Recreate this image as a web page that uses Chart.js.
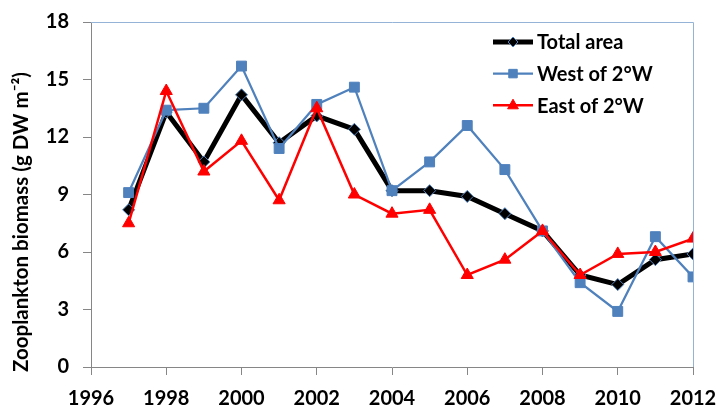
<!DOCTYPE html>
<html>
<head>
<meta charset="utf-8">
<script src="https://cdn.jsdelivr.net/npm/chart.js@4"></script>
<style>
  html, body { margin: 0; padding: 0; background: #fff; }
  #wrap { width: 718px; height: 408px; }
</style>
</head>
<body>
<div id="wrap"><canvas id="chart"></canvas></div>
<script>
// data
var years = [1997, 1998, 1999, 2000, 2001, 2002, 2003, 2004, 2005, 2006, 2007, 2008, 2009, 2010, 2011, 2012];
var totalArea = [8.2, 13.3, 10.7, 14.2, 11.7, 13.1, 12.4, 9.2, 9.2, 8.9, 8.0, 7.1, 4.8, 4.3, 5.6, 5.9];
var westOf2W = [9.1, 13.4, 13.5, 15.7, 11.4, 13.7, 14.6, 9.2, 10.7, 12.6, 10.3, 7.1, 4.4, 2.9, 6.8, 4.7];
var eastOf2W = [7.5, 14.4, 10.2, 11.8, 8.7, 13.5, 9.0, 8.0, 8.2, 4.8, 5.6, 7.1, 4.8, 5.9, 6.0, 6.7];
var seriesNames = ['Total area', 'West of 2\u00b0W', 'East of 2\u00b0W'];
var yTitle = 'Zooplankton biomass (g DW m\u207b\u00b2)';

var FONT = 'Lato, "Liberation Sans", sans-serif';
var AXIS_GREY = '#868686';
var BLUE = '#4f81bd';
var RED = '#ff0000';

function pts(values) {
    return values.map(function (v, i) { return { x: years[i], y: v }; });
}

function marker(ctx, style, x, y, r) {
    ctx.beginPath();
    if (style === 'rectRot') {
        ctx.moveTo(x, y - r); ctx.lineTo(x + r, y); ctx.lineTo(x, y + r); ctx.lineTo(x - r, y);
    } else if (style === 'rect') {
        var s = r * Math.SQRT1_2;
        ctx.rect(x - s, y - s, 2 * s, 2 * s);
    } else {
        ctx.moveTo(x, y - r); ctx.lineTo(x + r * 0.9, y + r * 0.6); ctx.lineTo(x - r * 0.9, y + r * 0.6);
    }
    ctx.closePath();
    ctx.fill();
    ctx.stroke();
}

// frame on top/right, y title and the in-plot legend
var extras = {
    id: 'extras',
    afterDraw: function (chart) {
        var ctx = chart.ctx, a = chart.chartArea;
        ctx.save();
        ctx.strokeStyle = '#95b3d7';
        ctx.lineWidth = 1;
        ctx.beginPath();
        ctx.moveTo(a.left, a.top + 0.5); ctx.lineTo(a.right + 0.5, a.top + 0.5); ctx.lineTo(a.right + 0.5, a.bottom);
        ctx.stroke();

        ctx.translate(21, 222);
        ctx.rotate(-Math.PI / 2);
        ctx.fillStyle = '#000';
        ctx.font = 'bold 20.5px ' + FONT;
        ctx.textAlign = 'center';
        ctx.textBaseline = 'middle';
        ctx.fillText(yTitle, 0, 0);
        ctx.restore();

        ctx.save();
        ctx.font = 'bold 20px ' + FONT;
        ctx.textBaseline = 'middle';
        ctx.fillStyle = '#000';
        chart.data.datasets.forEach(function (ds, i) {
            var y = 42 + i * 31.6;
            ctx.strokeStyle = ds.borderColor;
            ctx.lineWidth = ds.borderWidth;
            ctx.beginPath();
            ctx.moveTo(493, y); ctx.lineTo(533, y);
            ctx.stroke();
            ctx.fillStyle = ds.pointBackgroundColor;
            ctx.strokeStyle = ds.pointBorderColor;
            ctx.lineWidth = 1;
            marker(ctx, ds.pointStyle, 513, y, ds.pointRadius - 1);
            ctx.fillStyle = '#000';
            ctx.fillText(ds.label, 537, y + 1);
        });
        ctx.restore();
    }
};

new Chart(document.getElementById('chart'), {
    type: 'line',
    data: {
        datasets: [{
            label: seriesNames[0],
            data: pts(totalArea),
            borderColor: '#000',
            borderWidth: 5,
            pointStyle: 'rectRot',
            pointRadius: 6,
            pointBackgroundColor: '#000',
            pointBorderColor: BLUE,
            pointBorderWidth: 1,
            order: 3
        }, {
            label: seriesNames[1],
            data: pts(westOf2W),
            borderColor: BLUE,
            borderWidth: 2.25,
            pointStyle: 'rect',
            pointRadius: 7,
            pointBackgroundColor: BLUE,
            pointBorderColor: BLUE,
            pointBorderWidth: 1,
            order: 2
        }, {
            label: seriesNames[2],
            data: pts(eastOf2W),
            borderColor: RED,
            borderWidth: 2.5,
            pointStyle: 'triangle',
            pointRadius: 7,
            pointBackgroundColor: RED,
            pointBorderColor: RED,
            pointBorderWidth: 1,
            order: 1
        }]
    },
    options: {
        responsive: true,
        maintainAspectRatio: false,
        animation: false,
        events: [],
        layout: { padding: { top: 22, right: 25, left: 0, bottom: 0 } },
        plugins: { legend: { display: false }, tooltip: { enabled: false } },
        scales: {
            x: {
                type: 'linear',
                min: 1996,
                max: 2012,
                ticks: {
                    stepSize: 2,
                    padding: 12,
                    color: '#000',
                    font: { family: FONT, size: 20, weight: 'bold' },
                    callback: function (v) { return String(v); }
                },
                grid: { drawOnChartArea: false, drawTicks: true, tickLength: 8, color: AXIS_GREY },
                border: { display: true, color: AXIS_GREY },
                afterFit: function (s) { s.height = 41; s.paddingLeft = 0; s.paddingRight = 0; }
            },
            y: {
                min: 0,
                max: 18,
                ticks: {
                    stepSize: 3,
                    padding: 14,
                    color: '#000',
                    font: { family: FONT, size: 20, weight: 'bold' }
                },
                grid: { drawOnChartArea: false, drawTicks: true, tickLength: 8, color: AXIS_GREY },
                border: { display: true, color: AXIS_GREY },
                afterFit: function (s) { s.width = 91; s.paddingTop = 0; s.paddingBottom = 0; }
            }
        }
    },
    plugins: [extras]
});
</script>
</body>
</html>
